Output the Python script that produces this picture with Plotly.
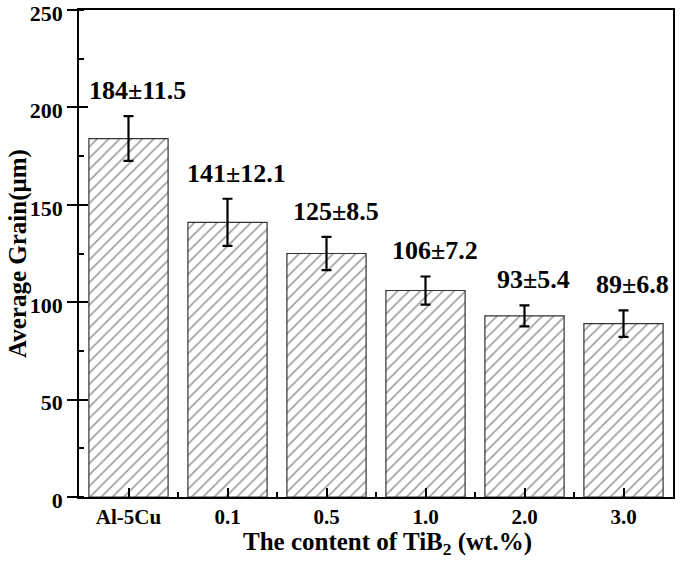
import plotly.graph_objects as go

categories = ["Al-5Cu", "0.1", "0.5", "1.0", "2.0", "3.0"]
grain_size = [184, 141, 125, 106, 93, 89]
grain_error = [11.5, 12.1, 8.5, 7.2, 5.4, 6.8]
y_ticks = [0, 50, 100, 150, 200, 250]

FONT = "Liberation Serif"
xpos = list(range(len(categories)))

W, H = 685, 561
L, R, T, B = 79, 12, 10, 64
PW, PH = W - L - R, H - T - B

fig = go.Figure()
fig.add_trace(go.Bar(
    x=xpos, y=grain_size, width=0.8,
    marker=dict(color="white", line=dict(color="#333333", width=1.2),
                pattern=dict(shape="/", fgcolor="#3a3a3a", bgcolor="white",
                             size=8, solidity=0.2)),
    error_y=dict(type="data", array=grain_error, visible=True,
                 color="black", thickness=2.2, width=5),
    showlegend=False,
))

for i, (v, e) in enumerate(zip(grain_size, grain_error)):
    fig.add_annotation(x=xpos[i], y=v + e, text=f"<b>{v}±{e}</b>",
                       showarrow=False, yanchor="bottom", yshift=9, xshift=9,
                       font=dict(family=FONT, size=26, color="black"))

# axis titles
fig.add_annotation(xref="paper", yref="paper", x=(387.5 - L) / PW, y=(H - B - 543) / PH,
                   text="<b>The content of TiB<sub>2</sub> (wt.%)</b>", showarrow=False,
                   xanchor="center", yanchor="middle",
                   font=dict(family=FONT, size=25, color="black"))
fig.add_annotation(xref="paper", yref="paper", x=(18 - L) / PW, y=(H - B - 254) / PH,
                   text="<b>Average Grain(μm)</b>", showarrow=False, textangle=-90,
                   xanchor="center", yanchor="middle",
                   font=dict(family=FONT, size=25, color="black"))

# invisible trace to carry the inside major ticks on y2
fig.add_trace(go.Scatter(x=[xpos[0]], y=[0], yaxis="y2", mode="markers",
                         marker=dict(opacity=0), showlegend=False, hoverinfo="skip"))

fig.update_layout(
    width=W, height=H,
    margin=dict(l=L, r=R, t=T, b=B),
    plot_bgcolor="white", paper_bgcolor="white",
    font=dict(family=FONT, color="black"),
    xaxis=dict(range=[-0.5, 5.5], tickvals=xpos, ticktext=[f"<b>{c}</b>" for c in categories],
               ticks="inside", ticklen=9, tickwidth=1.5, tickcolor="black",
               minor=dict(tick0=0.5, dtick=1, ticks="inside", ticklen=5, tickwidth=1.5, tickcolor="black"),
               showline=True, linecolor="black", linewidth=1.5, mirror=True,
               showgrid=False, zeroline=False, automargin=False, ticklabeloverflow="allow",
               tickfont=dict(family=FONT, size=21)),
    yaxis=dict(range=[0, 250], tickvals=y_ticks, ticktext=[f"<b>{t}</b>" for t in y_ticks],
               ticks="outside", ticklen=10, tickwidth=1.5, tickcolor="black",
               minor=dict(dtick=25, ticks="inside", ticklen=5, tickwidth=1.5, tickcolor="black"),
               showline=True, linecolor="black", linewidth=1.5, mirror=True,
               showgrid=False, zeroline=False, automargin=False, ticklabeloverflow="allow",
               ticklabelshift=3,
               tickfont=dict(family=FONT, size=22)),
    yaxis2=dict(range=[0, 250], overlaying="y", side="left", tickvals=y_ticks,
                ticks="inside", ticklen=9, tickwidth=1.5, tickcolor="black",
                showticklabels=False, showline=False, showgrid=False, zeroline=False,
                automargin=False),
)

fig.write_html("out.html", config={"displayModeBar": False},
               post_script="document.body.style.margin='0';document.body.style.overflow='hidden';")
